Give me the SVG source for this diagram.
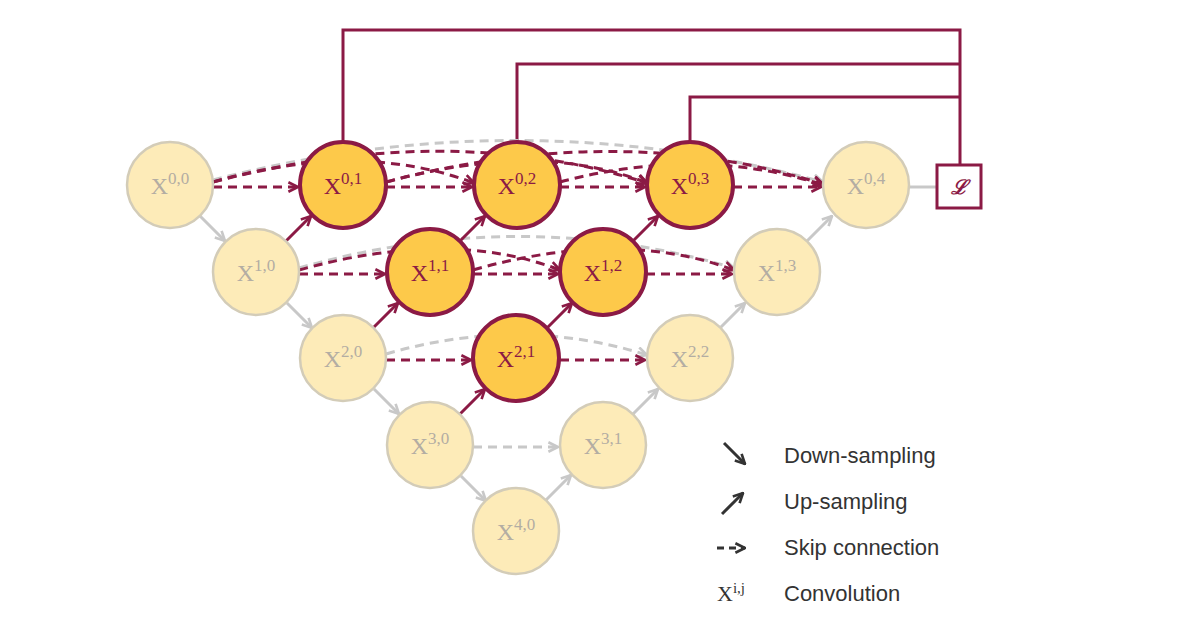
<svg xmlns="http://www.w3.org/2000/svg" width="1200" height="630" viewBox="0 0 1200 630">
<defs>
<marker id="mr" viewBox="0 0 10 10" refX="9" refY="5" markerWidth="4" markerHeight="4" orient="auto"><path d="M1,1 L9,5 L1,9" fill="none" stroke="#8b1a45" stroke-width="2.2"/></marker>
<marker id="mg" viewBox="0 0 10 10" refX="9" refY="5" markerWidth="4" markerHeight="4" orient="auto"><path d="M1,1 L9,5 L1,9" fill="none" stroke="#c8c8c8" stroke-width="2.2"/></marker>
<marker id="mk" viewBox="0 0 10 10" refX="9" refY="5" markerWidth="4" markerHeight="4" orient="auto"><path d="M1,1 L9,5 L1,9" fill="none" stroke="#333" stroke-width="2.2"/></marker>
<style>
.lt circle{fill:#fdebb8;stroke:#d3ccb8;stroke-width:2.5}
.lt text{fill:#b3ada3}
.dk circle{fill:#fdc94a;stroke:#8b1a45;stroke-width:4}
.dk text{fill:#8b1a45}
text.n{font-family:"Liberation Serif",serif;font-size:24px;text-anchor:middle}
.r{fill:none;stroke:#8b1a45;stroke-width:3;marker-end:url(#mr)}
.rd{fill:none;stroke:#8b1a45;stroke-width:3;stroke-dasharray:9 6;marker-end:url(#mr)}
.g{fill:none;stroke:#c8c8c8;stroke-width:3;marker-end:url(#mg)}
.gd{fill:none;stroke:#c8c8c8;stroke-width:3;stroke-dasharray:9 6;marker-end:url(#mg)}
.w{fill:none;stroke:#8b1a45;stroke-width:3}
.lg{font-family:"Liberation Sans",Arial,sans-serif;font-size:22px;fill:#333}
</style>
</defs>
<g id="connectors">
<path class="w" d="M343,142 V30 H960 V165 M517,142 V64 H960 M690,142 V97 H960"/>
<line x1="909" y1="187" x2="937" y2="187" stroke="#c8c8c8" stroke-width="3"/>
<path class="gd" d="M213,180 Q520,100 823,182"/>
<path class="gd" d="M299,268 Q520,205 734,268"/>
<path class="gd" d="M386,354 Q520,315 647,355"/>
<path class="rd" d="M213,182 Q360,140 474,183"/>
<path class="rd" d="M213,182 Q450,120 647,183"/>
<path class="rd" d="M386,182 Q540,140 647,183"/>
<path class="rd" d="M386,182 Q620,120 823,184"/>
<path class="rd" d="M560,182 Q700,145 823,185"/>
<path class="rd" d="M299,270 Q450,228 560,270"/>
<path class="rd" d="M473,270 Q620,228 734,270"/>
<path class="rd" d="M213,187 H298"/><path class="rd" d="M386,187 H472"/><path class="rd" d="M560,187 H645"/><path class="rd" d="M733,187 H821"/>
<path class="rd" d="M299,274 H385"/><path class="rd" d="M473,274 H558"/><path class="rd" d="M646,274 H732"/>
<path class="rd" d="M386,360 H471"/><path class="rd" d="M560,360 H645"/>
<path class="gd" d="M473,447 H558"/>
<path class="g" d="M200,216 L225,241"/><path class="g" d="M287,303 L312,328"/><path class="g" d="M374,389 L399,414"/><path class="g" d="M461,476 L486,501"/>
<path class="r" d="M286,241 L311,216"/><path class="r" d="M373,328 L398,303"/><path class="r" d="M460,241 L485,216"/>
<path class="r" d="M460,414 L485,389"/><path class="r" d="M547,328 L572,303"/><path class="r" d="M633,241 L658,216"/>
<path class="g" d="M546,500 L571,475"/><path class="g" d="M633,414 L658,389"/><path class="g" d="M720,328 L745,303"/><path class="g" d="M807,241 L832,216"/>
</g>
<g id="X00" class="lt"><circle cx="170" cy="185" r="43"/><text class="n" x="170" y="194">X<tspan dy="-10" font-size="17">0,0</tspan></text></g>
<g id="X10" class="lt"><circle cx="256" cy="272" r="43"/><text class="n" x="256" y="281">X<tspan dy="-10" font-size="17">1,0</tspan></text></g>
<g id="X20" class="lt"><circle cx="343" cy="358" r="43"/><text class="n" x="343" y="367">X<tspan dy="-10" font-size="17">2,0</tspan></text></g>
<g id="X30" class="lt"><circle cx="430" cy="445" r="43"/><text class="n" x="430" y="454">X<tspan dy="-10" font-size="17">3,0</tspan></text></g>
<g id="X40" class="lt"><circle cx="516" cy="531" r="43"/><text class="n" x="516" y="540">X<tspan dy="-10" font-size="17">4,0</tspan></text></g>
<g id="X31" class="lt"><circle cx="603" cy="445" r="43"/><text class="n" x="603" y="454">X<tspan dy="-10" font-size="17">3,1</tspan></text></g>
<g id="X22" class="lt"><circle cx="690" cy="358" r="43"/><text class="n" x="690" y="367">X<tspan dy="-10" font-size="17">2,2</tspan></text></g>
<g id="X13" class="lt"><circle cx="777" cy="272" r="43"/><text class="n" x="777" y="281">X<tspan dy="-10" font-size="17">1,3</tspan></text></g>
<g id="X04" class="lt"><circle cx="866" cy="185" r="43"/><text class="n" x="866" y="194">X<tspan dy="-10" font-size="17">0,4</tspan></text></g>
<g id="X01" class="dk"><circle cx="343" cy="185" r="43"/><text class="n" x="343" y="194">X<tspan dy="-10" font-size="17">0,1</tspan></text></g>
<g id="X02" class="dk"><circle cx="517" cy="185" r="43"/><text class="n" x="517" y="194">X<tspan dy="-10" font-size="17">0,2</tspan></text></g>
<g id="X03" class="dk"><circle cx="690" cy="185" r="43"/><text class="n" x="690" y="194">X<tspan dy="-10" font-size="17">0,3</tspan></text></g>
<g id="X11" class="dk"><circle cx="430" cy="272" r="43"/><text class="n" x="430" y="281">X<tspan dy="-10" font-size="17">1,1</tspan></text></g>
<g id="X12" class="dk"><circle cx="603" cy="272" r="43"/><text class="n" x="603" y="281">X<tspan dy="-10" font-size="17">1,2</tspan></text></g>
<g id="X21" class="dk"><circle cx="516" cy="358" r="43"/><text class="n" x="516" y="367">X<tspan dy="-10" font-size="17">2,1</tspan></text></g>
<g id="loss"><rect x="937" y="165" width="44" height="43" fill="#fff" stroke="#8b1a45" stroke-width="3"/><text x="959" y="194" font-family="Liberation Serif,serif" font-style="italic" font-weight="bold" font-size="20" fill="#8b1a45" text-anchor="middle">ℒ</text></g>
<g id="legend">
<path d="M724,443 L745,464" stroke="#333" stroke-width="3" fill="none" marker-end="url(#mk)"/>
<text class="lg" x="784" y="463">Down-sampling</text>
<path d="M722,514 L743,493" stroke="#333" stroke-width="3" fill="none" marker-end="url(#mk)"/>
<text class="lg" x="784" y="509">Up-sampling</text>
<path d="M717,548 H745" stroke="#333" stroke-width="3" stroke-dasharray="7 5" fill="none" marker-end="url(#mk)"/>
<text class="lg" x="784" y="555">Skip connection</text>
<text x="717" y="601" font-family="Liberation Serif,serif" font-size="22" fill="#333">X<tspan dy="-8" font-size="15">i,j</tspan></text>
<text class="lg" x="784" y="601">Convolution</text>
</g>
</svg>
